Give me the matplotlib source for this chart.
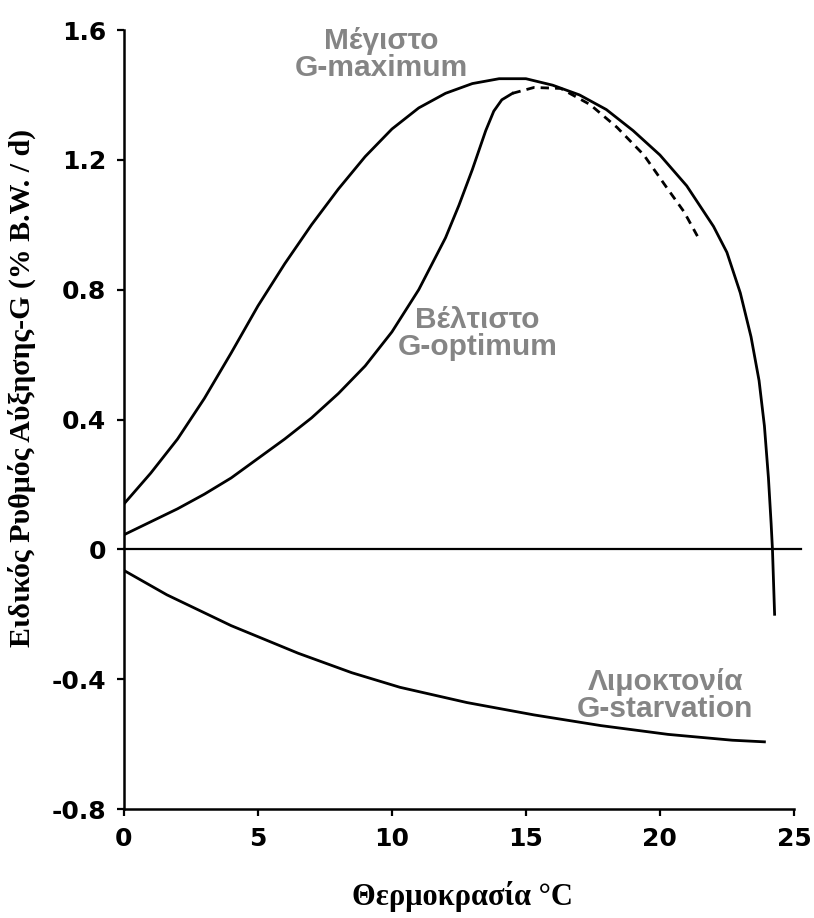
import matplotlib
matplotlib.use('Agg')
import matplotlib.pyplot as plt

OUT = 'out.png'

# G-maximum curve (temperature C, growth % B.W./d)
MAX_T = [0, 1, 2, 3, 4, 5, 6, 7, 8, 9, 10, 11, 12, 13, 14, 15, 16, 17, 18,
         19, 20, 21, 22, 22.5, 23.0, 23.4, 23.7, 23.9, 24.05, 24.15, 24.2,
         24.28]
MAX_G = [0.14, 0.235, 0.34, 0.465, 0.605, 0.75, 0.88, 1.0, 1.11, 1.21, 1.295,
         1.36, 1.405, 1.435, 1.45, 1.45, 1.43, 1.40, 1.355, 1.29, 1.215,
         1.12, 0.995, 0.915, 0.79, 0.655, 0.52, 0.38, 0.22, 0.08, 0.0, -0.2]

# G-optimum: solid part, then dashed continuation
OPT_T = [0, 1, 2, 3, 4, 5, 6, 7, 8, 9, 10, 11, 12, 12.5, 13, 13.5, 13.8,
         14.1, 14.5]
OPT_G = [0.045, 0.085, 0.125, 0.17, 0.22, 0.28, 0.34, 0.405, 0.48, 0.565,
         0.67, 0.80, 0.96, 1.06, 1.17, 1.29, 1.35, 1.385, 1.405]
OPT_DASH_T = [14.5, 15.3, 16.3, 17.4, 18.4, 19.4, 20.25, 20.9, 21.4]
OPT_DASH_G = [1.405, 1.423, 1.42, 1.37, 1.30, 1.215, 1.115, 1.04, 0.965]

# G-starvation
STV_T = [0.0, 1.6, 4.0, 6.5, 8.5, 10.3, 12.8, 15.3, 17.8, 20.3, 22.7, 23.9]
STV_G = [-0.065, -0.14, -0.235, -0.32, -0.38, -0.425, -0.472, -0.51, -0.543,
         -0.57, -0.588, -0.593]

XTICKS = [0, 5, 10, 15, 20, 25]
YTICKS = [-0.8, -0.4, 0, 0.4, 0.8, 1.2, 1.6]
YTICKLABELS = ['-0.8', '-0.4', '0', '0.4', '0.8', '1.2', '1.6']

GREY = '#858585'
LW = 2.0

fig = plt.figure(figsize=(8.14, 9.18), dpi=100)
ax = fig.add_axes([0.1523, 0.1187, 0.823, 0.8486])

ax.plot(MAX_T, MAX_G, color='black', lw=LW)
ax.plot(OPT_T, OPT_G, color='black', lw=LW)
ax.plot(OPT_DASH_T, OPT_DASH_G, color='black', lw=LW, dashes=(3, 2.2))
ax.plot(STV_T, STV_G, color='black', lw=LW)
# zero line runs a bit past the axis end
ax.plot([0, 25.25], [0, 0], color='black', lw=1.6, clip_on=False)

ax.set_xlim(0, 25)
ax.set_ylim(-0.8, 1.6)
for side in ('top', 'right'):
    ax.spines[side].set_visible(False)
for side in ('left', 'bottom'):
    ax.spines[side].set_linewidth(1.8)

ax.set_xticks(XTICKS)
ax.set_xticklabels([str(t) for t in XTICKS])
ax.set_yticks(YTICKS)
ax.set_yticklabels(YTICKLABELS)
ax.tick_params(axis='both', direction='out', length=5, width=1.6,
               labelsize=18, pad=8)
for lab in ax.get_xticklabels() + ax.get_yticklabels():
    lab.set_family('DejaVu Sans')
    lab.set_fontweight('bold')

# curve labels
lbl = dict(color=GREY, fontsize=21.5, fontweight='bold', ha='center',
           va='center', family='Liberation Sans', linespacing=0.95)
ax.text(9.6, 1.525, 'Μέγιστο\nG-maximum', **lbl)
ax.text(13.2, 0.665, 'Βέλτιστο\nG-optimum', **lbl)
ax.text(20.2, -0.45, 'Λιμοκτονία\nG-starvation', **lbl)

fig.text(22 / 814, 1 - 388 / 918, 'Ειδικός Ρυθμός Αύξησης-G (% B.W. / d)',
         rotation=90, ha='center', va='center', fontsize=21.5,
         fontweight='bold', family='Liberation Serif')
fig.text(462 / 814, 1 - 897 / 918, 'Θερμοκρασία °C', ha='center',
         va='center', fontsize=22, fontweight='bold', family='Liberation Serif')

fig.savefig(OUT, dpi=100)
